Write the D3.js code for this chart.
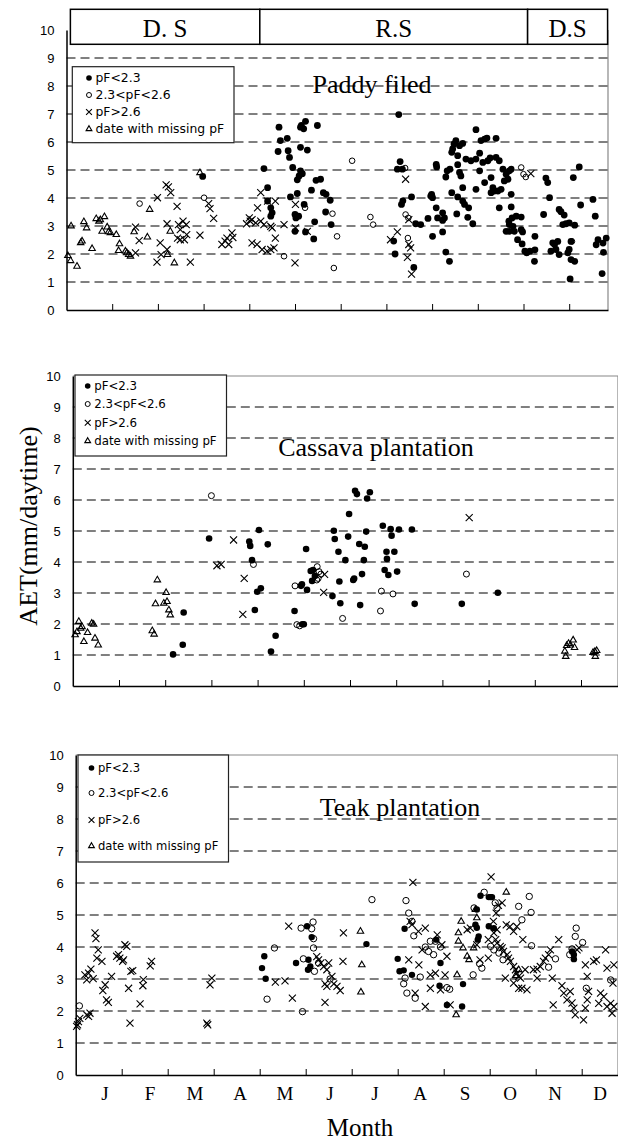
<!DOCTYPE html>
<html>
<head>
<meta charset="utf-8">
<script src="https://cdn.jsdelivr.net/npm/d3@7"></script>
<style>
  body { margin: 0; background: #fff; }
</style>
</head>
<body>
<div id="chart"></div>
<script>
// ---- data: [month (0 = 1 Jan), AET mm/daytime] ----
const paddyWet = [[2.98,4.77],[4.32,5.05],[4.40,4.37],[4.40,3.89],[4.47,3.65],[4.50,3.47],[4.47,3.35],[4.65,6.53],[4.68,6.05],[4.83,6.13],[4.63,5.66],[4.85,5.69],[4.88,5.45],[5.12,6.53],[5.19,6.47],[5.23,6.74],[5.14,6.59],[5.49,6.59],[5.12,5.81],[5.27,5.71],[4.95,5.09],[5.12,4.97],[5.16,4.87],[5.09,4.79],[5.05,4.65],[4.90,4.04],[5.05,4.16],[5.20,3.77],[5.00,3.41],[5.08,3.35],[5.02,3.29],[5.00,2.81],[5.23,2.79],[5.43,3.15],[5.41,2.54],[5.36,4.28],[5.46,4.63],[5.56,4.67],[5.62,4.19],[5.68,4.13],[5.77,3.92],[5.67,3.50],[5.79,3.05],[7.27,6.98],[7.30,5.30],[7.24,5.03],[7.35,5.03],[7.33,3.77],[7.36,3.90],[7.55,4.04],[7.16,2.46],[7.19,2.00],[7.60,1.52],[7.64,3.08],[7.75,3.05],[7.91,3.27],[7.99,4.13],[8.01,4.01],
  [8.96,6.44],[9.07,6.05],[9.15,6.10],[9.20,6.14],[9.40,6.13],[8.52,6.05],[8.48,5.93],[8.45,5.75],[8.43,5.63],[8.60,5.87],[8.67,5.95],[8.56,5.51],[8.56,5.19],[8.74,5.39],[8.85,5.33],[8.96,5.39],[9.04,5.60],[9.11,5.27],[9.22,5.33],[9.27,5.43],[9.40,5.45],[9.47,5.33],[8.09,5.20],[8.10,5.11],[8.33,4.97],[8.30,4.75],[8.39,5.03],[8.60,4.91],[8.63,4.79],[9.04,4.97],[9.15,4.55],[9.29,4.73],[9.33,4.37],[9.36,4.25],[9.29,4.19],[9.44,4.25],[9.51,4.31],[9.55,5.03],[9.62,4.85],[9.58,4.61],[9.69,4.97],[9.66,4.67],[9.73,5.03],[7.97,4.07],[8.09,3.65],[8.23,3.47],[8.27,3.29],[8.23,3.20],[8.12,3.29],[8.01,2.63],[8.23,2.79],[8.30,2.07],[8.38,1.74],[8.43,4.19],[8.56,4.04],[8.67,4.37],[8.67,3.89],[8.71,3.77],[8.80,3.65],[8.54,3.43],[8.78,3.31],[8.89,3.08],[8.96,4.31],[9.47,3.65],[9.73,4.13],[9.73,3.68],[9.75,3.29],[9.84,3.35],[9.68,3.17],[9.69,3.05],[9.77,2.99],[9.69,2.81],[9.80,2.81],[9.87,2.51],[9.62,2.81],[9.95,3.32],[9.95,2.87],[9.98,2.79],[9.97,2.36],[10.03,2.10],[10.07,2.04],[10.14,2.10],[10.25,2.63],[10.25,2.15],[10.24,1.74],[10.44,3.41],[10.49,4.71],[10.53,4.55],[10.57,4.01],[10.64,2.40],[10.68,2.34],[10.75,2.45],[10.71,2.16],[10.78,1.98],[10.60,2.10],[10.78,3.59],[10.82,3.51],[10.89,3.39],[10.86,3.05],[10.93,3.08],[11.00,3.11],[11.12,3.03],[11.04,2.45],[11.00,2.16],[10.97,2.04],[11.04,1.80],[11.12,1.74],[11.02,1.11],[11.09,4.73],[11.22,5.11],[11.25,3.75],[11.52,3.95],[11.57,3.35],[11.63,2.51],[11.59,2.33],[11.74,2.39],[11.81,2.57],[11.75,2.06],[11.72,1.30]];
const paddyMid = [[1.60,3.80],[3.01,4.01],[5.22,3.65],[4.76,1.92],[5.82,3.44],[5.92,2.63],[5.85,1.50],[6.25,5.33],[6.65,3.32],[6.71,3.05],[7.41,5.07],[7.42,3.41],[7.48,3.29],[7.47,2.57],[9.95,5.09],[10.00,4.85],[10.05,4.75],[11.06,2.45]];
const paddyDry = [[1.51,2.96],[1.59,2.48],[1.51,2.04],[1.98,1.71],[1.99,4.01],[2.05,2.40],[2.07,1.98],[2.20,2.16],[2.18,4.47],[2.23,4.40],[2.28,4.19],[2.20,3.08],[2.42,3.70],[2.45,3.05],[2.49,2.87],[2.43,2.57],[2.49,2.51],[2.55,3.17],[2.62,3.05],[2.63,2.69],[2.58,2.51],[2.71,1.71],[2.92,2.67],[3.11,3.80],[3.14,3.62],[3.22,3.27],[3.40,2.34],[3.47,2.46],[3.55,2.34],[3.62,2.75],[3.64,2.59],[3.51,2.57],[3.94,3.08],
  [4.25,4.19],[4.18,3.65],[4.02,3.17],[4.06,3.23],[4.14,3.11],[4.00,3.29],[4.25,3.17],[4.32,3.05],[4.47,2.99],[4.50,2.93],[4.06,2.40],[4.17,2.34],[4.28,2.16],[4.39,2.10],[4.47,2.16],[4.54,2.22],[4.57,2.57],[4.40,3.89],[4.57,3.89],[4.76,3.05],[5.01,3.77],[5.01,2.93],[5.27,2.81],[5.00,1.68],[7.09,2.51],[7.24,2.79],[7.42,4.67],[7.49,3.23],[7.49,2.34],[7.53,2.22],[7.46,1.88],[7.55,1.28],[10.16,4.87]];
const paddyMissing = [[0.03,1.94],[0.09,1.76],[0.23,1.56],[0.10,3.00],[0.31,2.40],[0.34,2.46],[0.38,3.15],[0.44,2.93],[0.56,2.19],[0.65,3.26],[0.71,3.17],[0.74,3.22],[0.83,3.33],[0.78,2.81],[0.89,2.96],[0.92,2.79],[0.96,2.76],[1.09,2.69],[1.16,2.36],[1.14,2.12],[1.29,2.10],[1.32,2.04],[1.36,1.98],[1.40,1.92],[1.48,2.79],[1.77,2.60],[1.82,3.59],[2.36,1.68],[2.92,4.90],[2.27,2.81],[2.21,1.98]];

const cassavaWet = [[2.40,2.37],[2.38,1.33],[2.17,1.02],[2.95,4.76],[4.03,5.03],[3.82,4.66],[3.84,4.52],[4.22,4.57],[3.88,4.06],[3.99,3.04],[4.07,3.15],[3.94,2.45],[4.39,1.62],[4.29,1.11],[4.80,2.42],[4.96,3.28],[4.94,3.23],[5.07,3.10],[5.00,1.99],[4.97,1.99],[5.05,4.42],[5.15,3.71],[5.20,3.74],[5.18,3.39],[5.24,3.55],[5.65,5.01],[5.67,4.74],[5.75,4.33],[5.96,4.82],[5.90,4.06],[5.98,5.55],[5.62,2.90],[5.77,3.37],[5.79,2.67],[6.11,6.30],[6.15,6.19],[6.37,6.05],[6.43,6.25],[6.20,4.58],[6.32,4.49],[6.35,4.98],[6.30,4.06],[6.07,3.42],[6.09,3.47],[6.26,3.61],[6.22,2.61],[6.71,5.17],[6.88,5.06],[7.06,5.05],[7.34,5.05],[6.90,4.85],[6.79,4.33],[6.96,4.33],[6.80,4.10],[6.75,3.74],[6.83,3.58],[7.02,3.69],[7.40,2.65],[8.42,2.65],[9.20,3.01]];
const cassavaMid = [[3.00,6.14],[3.91,3.92],[4.81,3.23],[4.85,1.98],[4.91,1.94],[5.29,3.85],[5.33,3.69],[5.37,3.61],[5.28,3.42],[5.31,3.47],[5.84,2.18],[6.66,2.42],[6.68,3.06],[6.93,2.97],[8.52,3.61]];
const cassavaDry = [[3.48,4.71],[3.12,3.88],[3.21,3.92],[3.71,3.47],[3.68,2.31],[5.45,3.60],[5.43,3.02],[8.58,5.43]];
const cassavaMissing = [[0.13,2.08],[0.05,1.65],[0.09,1.75],[0.17,1.86],[0.20,1.91],[0.24,1.43],[0.32,1.72],[0.41,2.02],[0.45,1.99],[0.48,1.54],[0.55,1.32],[1.72,1.78],[1.76,1.67],[1.79,2.65],[1.83,3.42],[1.97,2.67],[2.04,2.72],[2.02,3.01],[2.08,2.45],[2.11,2.29],[10.65,1.12],[10.69,1.30],[10.73,1.37],[10.77,1.32],[10.83,1.48],[10.86,1.24],[10.67,0.95],[11.26,1.08],[11.30,1.11],[11.34,1.14],[11.31,0.95]];

const teakWet = [[4.10,3.71],[4.05,3.34],[4.13,3.01],[4.79,3.50],[5.03,4.65],[5.13,4.31],[5.06,3.60],[5.10,3.39],[5.05,3.29],[6.32,4.09],[7.15,4.57],[7.00,3.63],[7.04,3.24],[7.13,3.27],[7.31,3.13],[7.84,4.23],[7.93,3.50],[7.91,2.79],[8.07,2.19],[8.40,2.14],[8.42,2.84],[8.80,5.60],[8.72,5.17],[8.69,4.70],[8.72,4.60],[8.76,4.33],[8.74,4.23],[8.98,5.56],[9.02,5.56],[9.05,5.56],[8.98,4.65],[9.09,4.59],[10.79,3.86],[10.83,3.76],[10.83,3.62]];
const teakMid = [[0.08,2.16],[4.16,2.37],[4.32,3.97],[4.90,4.59],[5.16,4.78],[5.13,4.57],[5.17,4.26],[5.17,3.97],[4.95,3.63],[5.19,3.24],[5.28,3.50],[5.53,3.00],[4.93,1.98],[6.44,5.48],[7.18,5.45],[7.24,5.06],[7.31,4.80],[7.35,4.35],[7.13,2.85],[7.20,2.56],[7.38,2.40],[7.49,3.06],[7.16,3.03],[7.60,4.00],[7.67,3.86],[7.78,3.76],[7.93,4.00],[7.82,4.18],[7.71,4.18],[8.07,2.73],[8.13,2.68],[8.64,3.13],[8.78,3.48],[8.83,3.34],[8.66,5.22],[8.88,5.71],[9.12,5.38],[9.16,5.22],[9.02,4.02],[9.09,3.91],[9.20,3.81],[9.29,3.60],[9.63,5.27],[9.70,4.85],[9.86,5.58],[9.90,5.08],[9.91,4.04],[10.28,3.37],[10.43,3.63],[10.74,3.76],[10.79,3.94],[10.86,4.33],[10.88,4.59],[11.02,4.14],[11.10,2.71],[11.63,2.97]];
const teakDry = [[0.04,1.57],[0.06,1.67],[0.09,1.77],[0.02,1.52],[0.28,1.83],[0.31,1.93],[0.24,1.88],[0.20,3.13],[0.24,2.97],[0.28,3.18],[0.33,3.31],[0.38,3.01],[0.42,4.44],[0.44,4.26],[0.49,3.91],[0.57,3.55],[0.46,3.65],[0.59,2.64],[0.64,2.82],[0.67,2.35],[0.71,2.27],[0.78,3.08],[0.89,3.71],[0.93,3.76],[0.96,3.65],[1.02,3.55],[1.07,4.07],[1.04,3.60],[1.11,4.02],[1.15,2.71],[1.18,1.62],[1.20,3.24],[1.24,3.26],[1.40,2.22],[1.46,2.79],[1.47,2.98],[1.62,3.41],[1.65,3.55],[2.85,1.62],[2.87,1.57],[2.92,2.82],[2.96,3.03],[4.34,2.90],[4.55,2.94],[4.71,2.40],[4.63,4.65],[5.24,3.70],[5.28,3.60],[5.33,3.50],[5.39,3.39],[5.46,3.29],[5.50,3.50],[5.57,3.08],[5.61,2.85],[5.42,2.85],[5.46,2.77],[5.68,2.77],[5.75,2.64],[5.42,2.27],[5.82,4.44],[5.81,3.55],
  [7.33,6.02],[7.27,4.80],[7.31,4.70],[7.45,4.49],[7.60,4.59],[7.24,3.60],[7.46,3.44],[7.38,2.56],[7.60,2.14],[7.71,3.13],[7.71,2.71],[7.53,3.91],[7.86,4.38],[7.96,4.07],[7.82,3.18],[7.93,2.66],[8.07,3.71],[8.03,3.13],[8.14,2.19],[8.51,4.54],[8.58,4.59],[8.72,4.07],[8.79,3.60],[8.97,3.65],[8.97,4.23],[9.03,6.19],[9.19,5.30],[9.27,5.38],[9.14,5.06],[9.08,4.80],[9.16,4.54],[9.09,4.44],[9.13,4.23],[9.16,4.12],[9.23,4.02],[9.27,3.97],[9.30,3.86],[9.38,3.76],[9.41,3.65],[9.45,3.55],[9.52,3.39],[9.56,3.29],[9.59,3.18],[9.63,3.08],[9.67,3.03],[9.36,4.69],[9.44,4.64],[9.52,4.49],[9.59,4.64],[9.72,4.23],[9.34,3.03],[9.52,2.87],[9.63,2.71],[9.70,2.71],[9.81,2.66],[9.77,3.29],[9.95,3.29],[10.03,3.31],[10.10,3.39],[10.17,3.55],[10.21,3.65],[10.28,3.76],[10.32,3.91],[10.50,4.23],[10.03,3.03],[10.36,3.03],[10.57,2.79],[10.75,2.61],[10.61,2.56],[10.68,2.35],[10.79,2.25],[10.83,2.09],[10.86,1.88],[11.04,1.72],[11.08,2.09],[11.12,2.35],[11.15,2.61],[11.12,3.08],[11.08,3.44],[11.26,3.55],[11.32,3.60],[10.38,2.19],[10.90,3.91],[10.94,3.97],[11.52,3.91],[11.55,3.34],[11.70,3.44],[11.41,2.56],[11.48,2.45],[11.55,2.14],[11.63,2.24],[11.66,1.93],[11.70,2.14],[11.68,2.87],[11.37,2.24]];
const teakMissing = [[6.19,4.49],[6.22,3.44],[6.20,2.59],[8.29,3.13],[8.27,1.88],[8.38,4.80],[8.32,4.44],[8.32,4.18],[8.42,3.97],[8.51,3.71],[8.55,3.60],[8.65,3.97],[8.72,4.91],[8.69,5.17],[9.36,5.71],[9.56,3.10],[9.63,3.29]];

const legendLabels = ["pF<2.3", "2.3<pF<2.6", "pF>2.6", "date with missing pF"];
const monthLabels = ["J", "F", "M", "A", "M", "J", "J", "A", "S", "O", "N", "D"];
const yTicks = d3.range(0, 11);
const gridValues = d3.range(1, 10);
const seasons = [
  { label: "D. S", start: 0.085, end: 4.23 },
  { label: "R.S", start: 4.23, end: 10.09 },
  { label: "D.S", start: 10.09, end: 11.84 }
];

const W = 618, H = 1144;
const serif = "'Liberation Serif', 'Times New Roman', serif";
const sans = "'Liberation Sans', Arial, sans-serif";
const legendFont = "'DejaVu Sans', Verdana, sans-serif";

const svg = d3.select("#chart").append("svg")
  .attr("width", W)
  .attr("height", H);

// marker makers
const crossPath = d3.symbol(d3.symbolTimes, 34)();
const triPath = d3.symbol(d3.symbolTriangle2, 30)();
const crossSmall = d3.symbol(d3.symbolTimes, 24)();
const triSmall = d3.symbol(d3.symbolTriangle2, 24)();

function drawMarker(sel, kind, r, small) {
  if (kind === "wet") {
    sel.append("circle").attr("r", r.dot).attr("fill", "#000");
  } else if (kind === "mid") {
    sel.append("circle").attr("r", r.open).attr("fill", "none").attr("stroke", "#000").attr("stroke-width", 1);
  } else if (kind === "dry") {
    sel.append("path").attr("d", small ? crossSmall : crossPath).attr("fill", "none").attr("stroke", "#000").attr("stroke-width", 1.1);
  } else {
    sel.append("path").attr("d", small ? triSmall : triPath).attr("fill", "none").attr("stroke", "#000").attr("stroke-width", 1.1);
  }
}

function drawPanel(p) {
  const x = d3.scaleLinear()
    .domain([0, (p.right - p.x0) / p.monthW])
    .range([p.x0, p.right]);
  const y = d3.scaleLinear().domain([0, 10]).range([p.bottom, p.top]);
  const g = svg.append("g");

  // frame lines (right and top) in grey
  g.append("line")
    .attr("x1", p.right).attr("x2", p.right)
    .attr("y1", y(10)).attr("y2", y(0))
    .attr("stroke", "#888").attr("stroke-width", 1.2);
  if (p.topBorder) {
    g.append("line")
      .attr("x1", p.x0).attr("x2", p.right)
      .attr("y1", y(10)).attr("y2", y(10))
      .attr("stroke", "#888").attr("stroke-width", 1.2);
  }

  // dashed gridlines
  g.selectAll("line.grid")
    .data(gridValues)
    .join("line")
    .attr("class", "grid")
    .attr("x1", p.x0).attr("x2", p.right)
    .attr("y1", d => y(d)).attr("y2", d => y(d))
    .attr("stroke", "#000")
    .attr("stroke-width", 1)
    .attr("stroke-dasharray", "9,5");

  // title
  g.append("text")
    .attr("x", p.titleX).attr("y", p.titleY)
    .attr("text-anchor", "middle")
    .attr("font-family", serif)
    .attr("font-size", 26)
    .text(p.title);

  // x axis, ticks pointing inward
  const xAxis = d3.axisBottom(x)
    .tickValues(d3.range(1, 12).filter(d => x(d) < p.right))
    .tickSizeInner(-6)
    .tickSizeOuter(0)
    .tickFormat("");
  const xa = g.append("g").attr("transform", `translate(0,${y(0)})`).call(xAxis);
  xa.select(".domain").attr("stroke-width", 1.5);
  xa.selectAll(".tick line").attr("stroke-width", 1);

  // y axis
  const yAxis = d3.axisLeft(y).tickValues(yTicks).tickSize(0).tickPadding(12);
  const ya = g.append("g").attr("transform", `translate(${p.x0},0)`).call(yAxis);
  ya.select(".domain").attr("stroke-width", 1.5);
  ya.selectAll(".tick text")
    .attr("font-family", sans)
    .attr("font-size", 13)
    .attr("fill", "#000");

  // points
  const series = [
    ["missing", p.data.missing],
    ["dry", p.data.dry],
    ["mid", p.data.mid],
    ["wet", p.data.wet]
  ];
  series.forEach(([kind, pts]) => {
    g.append("g")
      .selectAll("g")
      .data(pts)
      .join("g")
      .attr("transform", d => `translate(${x(d[0])},${y(d[1])})`)
      .each(function() { drawMarker(d3.select(this), kind, p.r, false); });
  });

  // legend
  const L = p.legend;
  const lg = g.append("g");
  lg.append("rect")
    .attr("x", L.x).attr("y", L.y).attr("width", L.w).attr("height", L.h)
    .attr("fill", "#fff").attr("stroke", "#222").attr("stroke-width", 1.2);
  ["wet", "mid", "dry", "missing"].forEach((kind, i) => {
    const row = lg.append("g").attr("transform", `translate(${L.mx},${L.rows[i]})`);
    drawMarker(row, kind, { dot: 2.8, open: 2.5 }, true);
    row.append("text")
      .attr("x", 6.5).attr("dy", "0.35em")
      .attr("font-family", legendFont)
      .attr("font-size", L.fs)
      .text(legendLabels[i]);
  });

  return { x, y, g };
}

// Paddy field panel with season header
const paddy = drawPanel({
  x0: 66.5, right: 608, monthW: 45.7, top: 30, bottom: 310,
  title: "Paddy filed", titleX: 372, titleY: 93,
  r: { dot: 3.4, open: 2.8 },
  legend: { x: 72.3, y: 66.7, w: 161.7, h: 76, mx: 89, rows: [78, 95, 112, 129], fs: 12.4 },
  data: { wet: paddyWet, mid: paddyMid, dry: paddyDry, missing: paddyMissing }
});

const hdr = svg.append("g");
hdr.selectAll("rect")
  .data(seasons)
  .join("rect")
  .attr("x", d => paddy.x(d.start))
  .attr("width", d => paddy.x(d.end) - paddy.x(d.start))
  .attr("y", 9.3).attr("height", 35)
  .attr("fill", "#fff").attr("stroke", "#000").attr("stroke-width", 1.5);
hdr.selectAll("text")
  .data(seasons)
  .join("text")
  .attr("x", d => paddy.x((d.start + d.end) / 2))
  .attr("y", 36.5)
  .attr("text-anchor", "middle")
  .attr("font-family", serif)
  .attr("font-size", 25)
  .text(d => d.label);

// Cassava plantation
drawPanel({
  x0: 72.8, right: 618, monthW: 46.2, top: 376, bottom: 686, topBorder: true,
  title: "Cassava plantation", titleX: 376, titleY: 456,
  r: { dot: 3.3, open: 3 },
  legend: { x: 75, y: 375, w: 151.5, h: 81, mx: 87.7, rows: [386, 404, 422.7, 441], fs: 11.8 },
  data: { wet: cassavaWet, mid: cassavaMid, dry: cassavaDry, missing: cassavaMissing }
});

// Teak plantation
drawPanel({
  x0: 75.7, right: 618, monthW: 46, top: 755, bottom: 1075, topBorder: true,
  title: "Teak plantation", titleX: 400, titleY: 816,
  r: { dot: 3.2, open: 3.2 },
  legend: { x: 78, y: 755, w: 150.5, h: 107, mx: 91.5, rows: [768, 793, 820, 846], fs: 11.6 },
  data: { wet: teakWet, mid: teakMid, dry: teakDry, missing: teakMissing }
});

// month labels
const monthPos = d3.scalePoint().domain(d3.range(12)).range([105, 600]);
svg.append("g")
  .selectAll("text")
  .data(monthLabels)
  .join("text")
  .attr("x", (d, i) => monthPos(i))
  .attr("y", 1100)
  .attr("text-anchor", "middle")
  .attr("font-family", serif)
  .attr("font-size", 19)
  .text(d => d);

svg.append("text")
  .attr("x", 360).attr("y", 1136)
  .attr("text-anchor", "middle")
  .attr("font-family", serif)
  .attr("font-size", 25)
  .text("Month");

svg.append("text")
  .attr("transform", "translate(37,526) rotate(-90)")
  .attr("text-anchor", "middle")
  .attr("font-family", serif)
  .attr("font-size", 26)
  .text("AET(mm/daytime)");
</script>
</body>
</html>
